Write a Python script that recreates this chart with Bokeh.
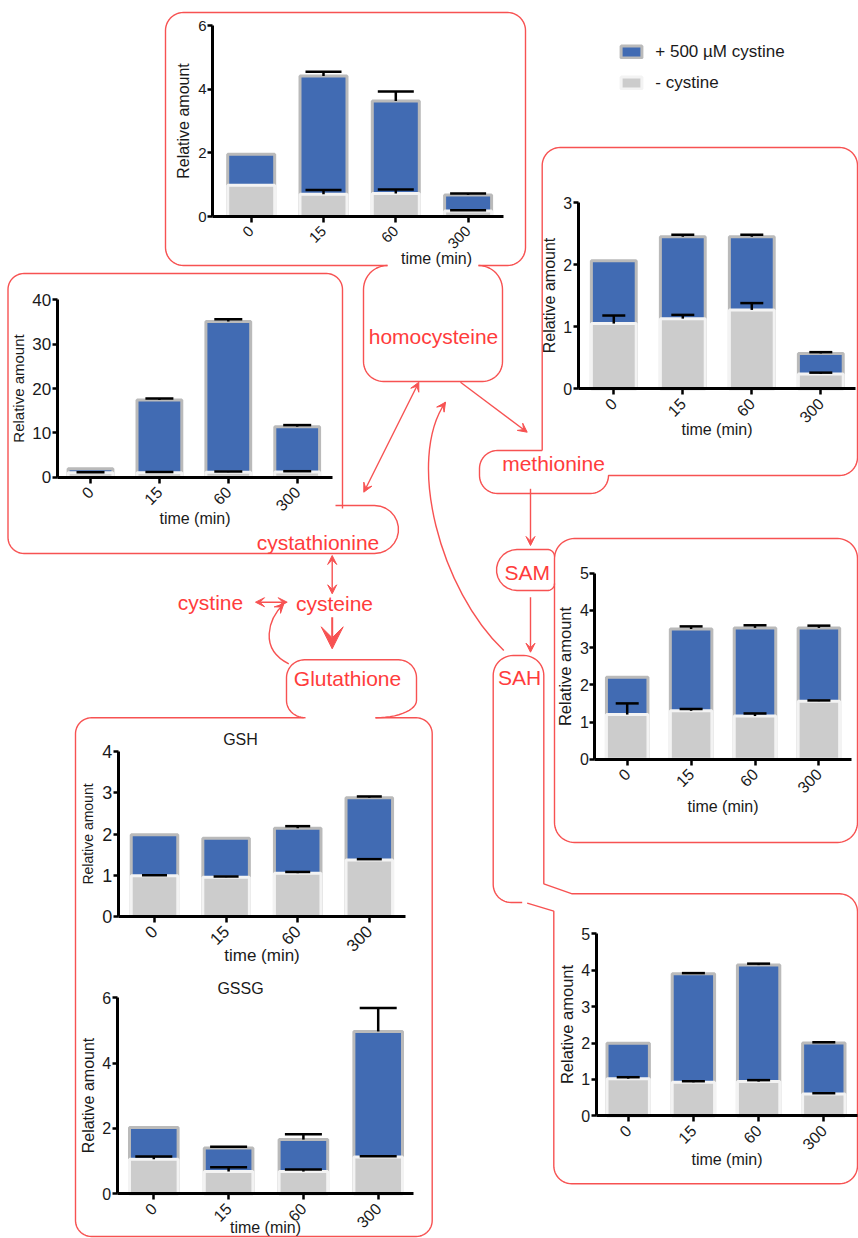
import math
import numpy as np
from bokeh.plotting import figure
from bokeh.models import (Range1d, LinearAxis, FixedTicker, ColumnDataSource, Whisker,
                          TeeHead, Arrow, VeeHead, Legend, LegendItem)
from bokeh.core.properties import value
from bokeh.embed import file_html
from bokeh.resources import INLINE

# ---------------- data ----------------
times = ["0", "15", "60", "300"]

hcy_plus = [1.96, 4.42, 3.63, 0.68]
hcy_plus_err = [0.0, 0.13, 0.30, 0.04]
hcy_minus = [0.98, 0.70, 0.72, 0.17]
hcy_minus_err = [0.0, 0.13, 0.13, 0.03]
hcy_yticks = [0, 2, 4, 6]

cth_plus = [1.9, 17.4, 35.1, 11.4]
cth_plus_err = [0.0, 0.35, 0.5, 0.35]
cth_minus = [1.0, 1.0, 1.1, 1.2]
cth_minus_err = [0.1, 0.15, 0.2, 0.15]
cth_yticks = [0, 10, 20, 30, 40]

met_plus = [2.06, 2.45, 2.45, 0.57]
met_plus_err = [0.0, 0.03, 0.03, 0.02]
met_minus = [1.05, 1.13, 1.27, 0.24]
met_minus_err = [0.13, 0.06, 0.11, 0.02]
met_yticks = [0, 1, 2, 3]

sam_plus = [2.2, 3.5, 3.53, 3.53]
sam_plus_err = [0.0, 0.07, 0.07, 0.06]
sam_minus = [1.2, 1.3, 1.16, 1.56]
sam_minus_err = [0.3, 0.05, 0.07, 0.02]
sam_yticks = [0, 1, 2, 3, 4, 5]

sah_plus = [1.99, 3.9, 4.14, 2.0]
sah_plus_err = [0.0, 0.02, 0.04, 0.02]
sah_minus = [1.02, 0.92, 0.94, 0.6]
sah_minus_err = [0.04, 0.03, 0.04, 0.02]
sah_yticks = [0, 1, 2, 3, 4, 5]

gsh_plus = [1.98, 1.9, 2.14, 2.88]
gsh_plus_err = [0.0, 0.0, 0.05, 0.03]
gsh_minus = [0.99, 0.95, 1.05, 1.37]
gsh_minus_err = [0.01, 0.02, 0.03, 0.02]
gsh_yticks = [0, 1, 2, 3, 4]

gssg_plus = [2.03, 1.4, 1.66, 4.97]
gssg_plus_err = [0.0, 0.04, 0.16, 0.72]
gssg_minus = [1.06, 0.68, 0.68, 1.13]
gssg_minus_err = [0.08, 0.13, 0.06, 0.02]
gssg_yticks = [0, 2, 4, 6]

legend_labels = ["+ 500 µM cystine", "- cystine"]
node_labels = ["homocysteine", "methionine", "cystathionine", "cystine", "cysteine",
               "Glutathione", "SAM", "SAH"]

# ---------------- style / layout ----------------
FONT = "Liberation Sans"
RED = "#f75252"
RED_TXT = "#ff3c3c"
BLUE = "#416bb3"
BLUE_EDGE = "#bababa"
GRAY = "#cccccc"
GRAY_EDGE = "#f3f3f3"
INK = "#1a1a1a"
BAR_W = 0.65

X0, X1, Y0, Y1 = 0, 858, 0, 1238   # reference-pixel window of the frame

p = figure(width=858, height=1238, x_range=Range1d(X0, X1), y_range=Range1d(Y1, Y0),
           output_backend="svg", toolbar_location=None, min_border=0,
           x_axis_location=None, y_axis_location=None, outline_line_color=None,
           background_fill_color="white", border_fill_color="white")
p.grid.visible = False

# ---------------- red pathway diagram ----------------
def arc(cx, cy, rx, ry, a0, a1, n=14):
    a = np.radians(np.linspace(a0, a1, n))
    return list(zip(cx + rx * np.cos(a), cy + ry * np.sin(a)))

def draw(*parts, lw=1.4):
    pts = []
    for part in parts:
        if isinstance(part, tuple):
            pts.append(part)
        else:
            pts.extend(part)
    p.line([q[0] for q in pts], [q[1] for q in pts], line_color=RED, line_width=lw)

# box A (homocysteine chart) with gap at bottom
r = 18
draw((387, 265), (165 + r, 265), arc(165 + r, 265 - r, r, r, 90, 180), (165, 12 + r),
     arc(165 + r, 12 + r, r, r, 180, 270), (525 - r, 12), arc(525 - r, 12 + r, r, r, 270, 360),
     (525, 265 - r), arc(525 - r, 265 - r, r, r, 0, 90), (478, 265))
# homocysteine tab
draw(arc(387, 289, 24, 24, 270, 180), (363, 361), arc(383, 361, 20, 20, 180, 90), (482, 381),
     arc(482, 361, 20, 20, 90, 0), (502, 289), arc(478, 289, 24, 24, 0, -90))
# box B (cystathionine chart) + tab
r = 16
draw((342, 508), (342, 273 + r), arc(342 - r, 273 + r, r, r, 0, -90), (7.5 + r, 273),
     arc(7.5 + r, 273 + r, r, r, 270, 180), (7.5, 553 - r), arc(7.5 + r, 553 - r, r, r, 180, 90),
     (374, 553), arc(374, 529, 24, 24, 90, -90), (335, 505))
# box C (methionine chart) + methionine tab
r = 18
draw((541.7, 450), (541.7, 147 + r), arc(541.7 + r, 147 + r, r, r, 180, 270), (857 - r, 147),
     arc(857 - r, 147 + r, r, r, 270, 360), (857, 475 - r), arc(857 - r, 475 - r, r, r, 0, 90),
     (608, 475), arc(590, 475, 18, 18, 0, 90), (497, 493), arc(497, 475, 18, 18, 90, 180),
     (479, 468), arc(497, 468, 18, 18, 180, 270), (541.7, 450))
# box D (SAM chart)
r = 20
draw((554, 822), (554, 558), arc(574, 558, r, r, 180, 270), (837, 538),
     arc(837, 558, r, r, 270, 360), (857, 822), arc(837, 822, r, r, 0, 90), (574, 842),
     arc(574, 822, r, r, 90, 180), (554, 822))
# SAM tab
draw(arc(547, 556, 7, 7, 0, -90), (516.5, 549), arc(516.5, 569.5, 20.5, 20.5, 270, 90),
     (547, 590), arc(547, 583, 7, 7, 90, 0))
# SAH tab + box E (SAH chart)
draw((521.7, 902), (510.7, 902), arc(510.7, 884, 18, 18, 90, 180), (492.7, 675),
     arc(512.7, 675, 20, 20, 180, 270), (523.3, 655), arc(523.3, 675, 20, 20, 270, 360),
     (543.3, 883.3), (571.7, 893.3), (839, 893.3), arc(839, 911.3, 18, 18, 270, 360),
     (857, 1165.3), arc(839, 1165.3, 18, 18, 0, 90), (571.3, 1183.3),
     arc(571.3, 1165.3, 18, 18, 90, 180), (553.3, 910.7), (526.7, 902.7))
# box F (GSH / GSSG) + Glutathione tab
r = 16
draw((303.3, 717.3), (75 + r, 717.3), arc(75 + r, 717.3 + r, r, r, 270, 180), (75, 1236 - r),
     arc(75 + r, 1236 - r, r, r, 180, 90), (431.7 - r, 1236), arc(431.7 - r, 1236 - r, r, r, 90, 0),
     (431.7, 717.3 + r), arc(431.7 - r, 717.3 + r, r, r, 0, -90), (375, 717.3))
draw(arc(305, 700, 19, 17.3, 90, 180), (286, 677.3), arc(304, 677.3, 18, 18, 180, 270),
     (398, 659.3), arc(398, 677.3, 18, 18, 270, 360), (416, 700), arc(375, 700, 41, 17.3, 0, 90))

def arrow(x0, y0, x1, y1, both=False, size=9, lw=1.4):
    head = lambda: VeeHead(size=size, fill_color=RED, line_color=RED, line_width=1)
    p.add_layout(Arrow(x_start=x0, y_start=y0, x_end=x1, y_end=y1, line_color=RED,
                       line_width=lw, end=head(), start=head() if both else None))

arrow(418.3, 381.7, 363.3, 491.7, both=True)
arrow(460, 381.7, 526.7, 431.7)
arrow(530, 488.3, 530, 545)
arrow(530, 596.7, 530, 651.7)
arrow(331.7, 555, 331.7, 593.3, both=True)
arrow(255, 601.7, 286.7, 601.7, both=True)
arrow(331.7, 616.7, 331.7, 648.3, size=22, lw=2)

def curved(x0, y0, cx0, cy0, cx1, cy1, x1, y1):
    p.bezier(x0=[x0], y0=[y0], x1=[x1], y1=[y1], cx0=[cx0], cy0=[cy0], cx1=[cx1], cy1=[cy1],
             line_color=RED, line_width=1.4)
    dx, dy = x1 - cx1, y1 - cy1
    n = math.hypot(dx, dy)
    arrow(x1 - 2 * dx / n, y1 - 2 * dy / n, x1, y1)

curved(503.3, 650, 440, 590, 405, 460, 445, 401.7)
curved(288.3, 663.3, 258, 648, 268, 618.3, 283.3, 603.3)

node_x = [433, 553, 317.5, 210, 334, 347, 526.7, 519]
node_y = [336, 463.3, 541.5, 601.7, 603.3, 678.3, 571.7, 677]
p.text(x=node_x, y=node_y, text=node_labels, text_font=value(FONT), text_font_size="21px",
       text_color=RED_TXT, text_align="center", text_baseline="middle")

# ---------------- bar charts ----------------
G = {
    "hcy": dict(ax_x=212, xc0=250.7, dx=72.3, y0=216, unit=31.8, x_end=503, ytfs=15, xtfs=15, lfs=16, xfs=16, cap=36, xls=0),
    "cth": dict(ax_x=56.7, xc0=90, dx=68.9, y0=476.7, unit=4.435, x_end=331.7, ytfs=17, xtfs=16, lfs=15, xfs=16, cap=28, xls=-10),
    "met": dict(ax_x=577.7, xc0=613.3, dx=69.0, y0=388.3, unit=62.1, x_end=855, ytfs=16, xtfs=16, lfs=16, xfs=16, cap=23, xls=-10),
    "sam": dict(ax_x=594.3, xc0=626.7, dx=63.9, y0=758.7, unit=37.2, x_end=850.7, ytfs=16, xtfs=16, lfs=16.5, xfs=16, cap=23, xls=-4),
    "sah": dict(ax_x=595.7, xc0=627.7, dx=65.2, y0=1115.3, unit=36.4, x_end=856.7, ytfs=16, xtfs=16, lfs=16.5, xfs=16, cap=23, xls=-7),
    "gsh": dict(ax_x=117.7, xc0=154, dx=71.6, y0=916, unit=41.25, x_end=405, ytfs=18, xtfs=17, lfs=14, xfs=17, cap=25, xls=-14),
    "gssg": dict(ax_x=116.7, xc0=153.3, dx=74.8, y0=1193.3, unit=32.67, x_end=413.3, ytfs=16, xtfs=16, lfs=16, xfs=16, cap=37, xls=-17),
}

extra_x, extra_y = {}, {}
for k, g in G.items():
    extra_x["x_" + k] = Range1d((X0 - g["xc0"]) / g["dx"], (X1 - g["xc0"]) / g["dx"])
    extra_y["y_" + k] = Range1d((g["y0"] - Y1) / g["unit"], (g["y0"] - Y0) / g["unit"])
p.extra_x_ranges = extra_x
p.extra_y_ranges = extra_y

renderers = {}

def chart(k, plus, plus_err, minus, minus_err, yticks, xlabel=True):
    g = G[k]
    xn, yn = "x_" + k, "y_" + k
    idx = list(range(len(times)))
    src = ColumnDataSource(dict(x=idx, plus=plus, minus=minus))
    rb = p.vbar(x="x", top="plus", bottom=0, width=BAR_W, source=src, fill_color=BLUE,
                line_color=BLUE_EDGE, line_width=3, x_range_name=xn, y_range_name=yn)
    rg = p.vbar(x="x", top="minus", bottom=0, width=BAR_W, source=src, fill_color=GRAY,
                line_color=GRAY_EDGE, line_width=3, x_range_name=xn, y_range_name=yn)
    renderers[k] = (rb, rg)
    for vals, errs in ((plus, plus_err), (minus, minus_err)):
        keep = [i for i in idx if errs[i] > 0]
        es = ColumnDataSource(dict(x=keep, lo=[vals[i] for i in keep],
                                   hi=[vals[i] + errs[i] for i in keep]))
        p.add_layout(Whisker(source=es, base="x", lower="lo", upper="hi", dimension="height",
                             line_color="black", line_width=2.5, lower_head=None,
                             upper_head=TeeHead(size=g["cap"], line_color="black", line_width=2.5),
                             level="annotation", x_range_name=xn, y_range_name=yn))
    common = dict(x_range_name=xn, y_range_name=yn, axis_line_width=3, axis_line_color="black",
                  major_tick_line_width=2.5, major_tick_line_color="black", major_tick_in=0,
                  minor_tick_line_color=None, major_label_text_font=FONT,
                  major_label_text_color=INK,
                  axis_label_text_font=FONT, axis_label_text_font_style="normal",
                  axis_label_text_color=INK)
    yax = LinearAxis(fixed_location=(g["ax_x"] - g["xc0"]) / g["dx"], bounds=(0, yticks[-1]),
                     ticker=FixedTicker(ticks=yticks, minor_ticks=[]), major_tick_out=5,
                     major_label_standoff=1, major_label_text_font_size=f"{g['ytfs']}px",
                     axis_label="Relative amount",
                     axis_label_text_font_size=f"{g['lfs']}px", axis_label_standoff=3, **common)
    p.add_layout(yax, "left")
    xax = LinearAxis(fixed_location=0,
                     bounds=((g["ax_x"] - g["xc0"]) / g["dx"], (g["x_end"] - g["xc0"]) / g["dx"]),
                     ticker=FixedTicker(ticks=idx, minor_ticks=[]), major_tick_out=6,
                     major_label_overrides={i: t for i, t in enumerate(times)},
                     major_label_orientation=math.pi / 4, major_label_standoff=6,
                     major_label_text_font_size=f"{g['xtfs']}px",
                     axis_label="time (min)" if xlabel else None,
                     axis_label_text_font_size=f"{g['xfs']}px", axis_label_standoff=g["xls"],
                     **common)
    p.add_layout(xax, "below")

chart("hcy", hcy_plus, hcy_plus_err, hcy_minus, hcy_minus_err, hcy_yticks, xlabel=False)
chart("cth", cth_plus, cth_plus_err, cth_minus, cth_minus_err, cth_yticks)
chart("met", met_plus, met_plus_err, met_minus, met_minus_err, met_yticks)
chart("sam", sam_plus, sam_plus_err, sam_minus, sam_minus_err, sam_yticks)
chart("sah", sah_plus, sah_plus_err, sah_minus, sah_minus_err, sah_yticks)
chart("gsh", gsh_plus, gsh_plus_err, gsh_minus, gsh_minus_err, gsh_yticks)
chart("gssg", gssg_plus, gssg_plus_err, gssg_minus, gssg_minus_err, gssg_yticks)

# x label of the top chart sits off-centre in the reference
p.text(x=[436], y=[258], text=["time (min)"], text_font=value(FONT), text_font_size="16px",
       text_color=INK, text_align="center", text_baseline="middle")
# titles
p.text(x=[240, 240], y=[739, 988], text=["GSH", "GSSG"], text_font=value(FONT),
       text_font_size="16px", text_color=INK, text_align="center", text_baseline="middle")

# legend
rb, rg = renderers["hcy"]
legend = Legend(items=[LegendItem(label=legend_labels[0], renderers=[rb]),
                       LegendItem(label=legend_labels[1], renderers=[rg])],
                location=(618.3, 1145.3), padding=0, spacing=11, glyph_width=26,
                glyph_height=15, label_height=15, label_standoff=11,
                label_text_font=FONT, label_text_font_size="17px", label_text_color=INK,
                border_line_alpha=0, background_fill_alpha=0)
p.add_layout(legend)

open("out.html", "w").write(file_html(p, INLINE))
